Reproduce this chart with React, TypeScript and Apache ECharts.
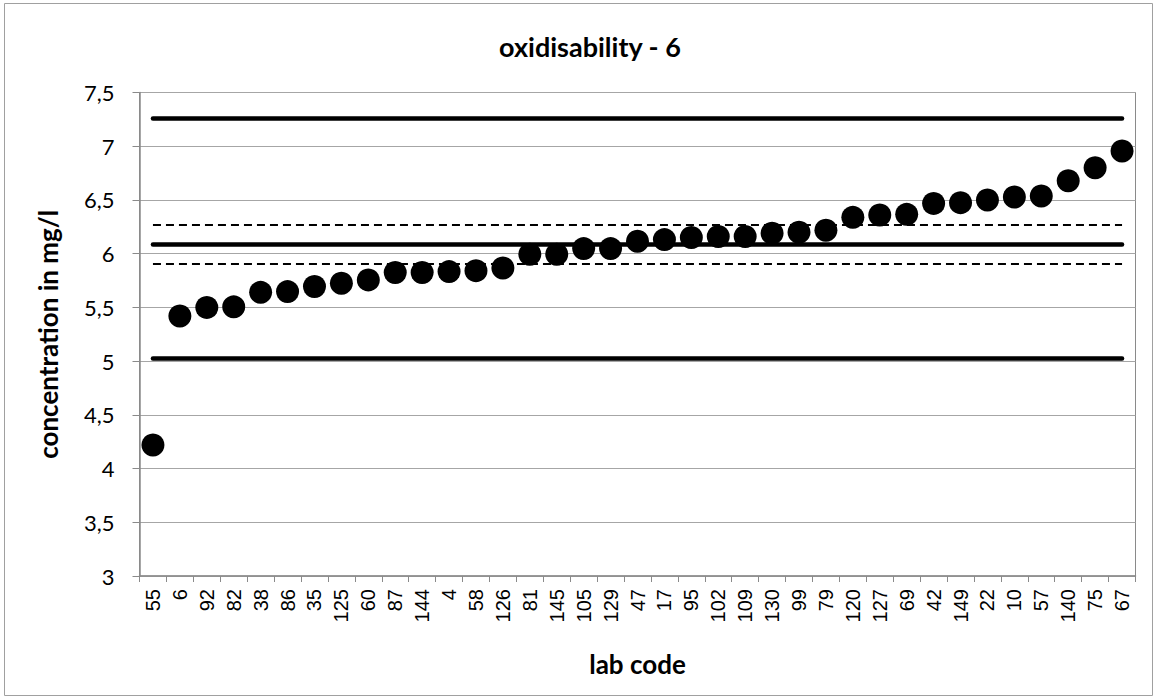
import React, { useEffect, useRef } from "react";
import * as echarts from "echarts";

const labCodes = ["55", "6", "92", "82", "38", "86", "35", "125", "60", "87", "144", "4", "58", "126", "81", "145", "105", "129", "47", "17", "95", "102", "109", "130", "99", "79", "120", "127", "69", "42", "149", "22", "10", "57", "140", "75", "67"];
const concentrations = [4.22, 5.42, 5.5, 5.505, 5.64, 5.647, 5.695, 5.725, 5.756, 5.824, 5.824, 5.833, 5.842, 5.867, 5.994, 5.994, 6.047, 6.047, 6.115, 6.131, 6.15, 6.159, 6.159, 6.19, 6.199, 6.218, 6.338, 6.36, 6.366, 6.468, 6.475, 6.499, 6.527, 6.536, 6.679, 6.8, 6.955];
const assignedValue = 6.09;
const toleranceUpper = 6.27;
const toleranceLower = 5.91;
const upperLimit = 7.256;
const lowerLimit = 5.025;
const yTicks = { min: 3, max: 7.5, interval: 0.5 };

const GRAY = "#8a8a8a";
const solidStyle = { type: "solid", width: 4.5, color: "#000", cap: "round" };
const dashedStyle = { type: [8, 5], width: 2, color: "#000" };

function hLine(value: number, lineStyle: any) {
  return [
    { coord: [labCodes[0], value], lineStyle },
    { coord: [labCodes[labCodes.length - 1], value] },
  ];
}

export default function App() {
  const ref = useRef<HTMLDivElement>(null);
  useEffect(() => {
    if (!ref.current) return;
    const chart = echarts.init(ref.current, undefined, { renderer: "svg" });
    const titleFont = { fontFamily: "Lato", fontWeight: "bold", fontSize: 26, color: "#000" };
    chart.setOption({
      animation: false,
      backgroundColor: "#ffffff",
      title: {
        text: "oxidisability - 6",
        left: 585,
        top: 28,
        textAlign: "center",
        textStyle: { ...titleFont, fontSize: 27 },
      },
      graphic: [
        {
          type: "rect",
          shape: { x: 4.5, y: 3.5, width: 1148, height: 692 },
          style: { fill: "none", stroke: "#a0a0a0", lineWidth: 1 },
          silent: true,
          z: -1,
        },
      ],
      grid: {
        left: 139.5,
        top: 92.5,
        right: 21.5,
        bottom: 123,
        show: true,
        borderColor: GRAY,
        borderWidth: 1,
        containLabel: false,
      },
      xAxis: {
        type: "category",
        data: labCodes,
        boundaryGap: true,
        name: "lab code",
        nameLocation: "middle",
        nameGap: 75,
        nameTextStyle: titleFont,
        axisLine: { lineStyle: { color: GRAY, width: 1.5 } },
        axisTick: { show: true, length: 6, lineStyle: { color: GRAY } },
        axisLabel: {
          rotate: 90,
          interval: 0,
          margin: 13,
          fontFamily: "Liberation Sans",
          fontSize: 20,
          color: "#000",
        },
        splitLine: { show: false },
      },
      yAxis: {
        type: "value",
        min: yTicks.min,
        max: yTicks.max,
        interval: yTicks.interval,
        name: "concentration in mg/l",
        nameLocation: "middle",
        nameGap: 79,
        nameTextStyle: titleFont,
        axisLine: { show: true, lineStyle: { color: GRAY, width: 1.5 } },
        axisTick: { show: true, length: 7, lineStyle: { color: GRAY } },
        axisLabel: {
          margin: 25,
          fontFamily: "Lato",
          fontSize: 22,
          color: "#000",
          formatter: (v: number) => String(v).replace(".", ","),
        },
        splitLine: { show: true, lineStyle: { color: "#a6a6a6", width: 1 } },
      },
      series: [
        {
          type: "scatter",
          data: concentrations,
          symbol: "circle",
          symbolSize: 23,
          itemStyle: { color: "#000", opacity: 1 },
          z: 5,
          markLine: {
            silent: true,
            symbol: ["none", "none"],
            label: { show: false },
            data: [
              hLine(upperLimit, solidStyle),
              hLine(assignedValue, solidStyle),
              hLine(lowerLimit, solidStyle),
              hLine(toleranceUpper, dashedStyle),
              hLine(toleranceLower, dashedStyle),
            ],
          },
        },
      ],
    });
    return () => chart.dispose();
  }, []);
  return (
    <div
      ref={ref}
      style={{ position: "fixed", left: 0, top: 0, width: 1157, height: 699, background: "#fff" }}
    />
  );
}
